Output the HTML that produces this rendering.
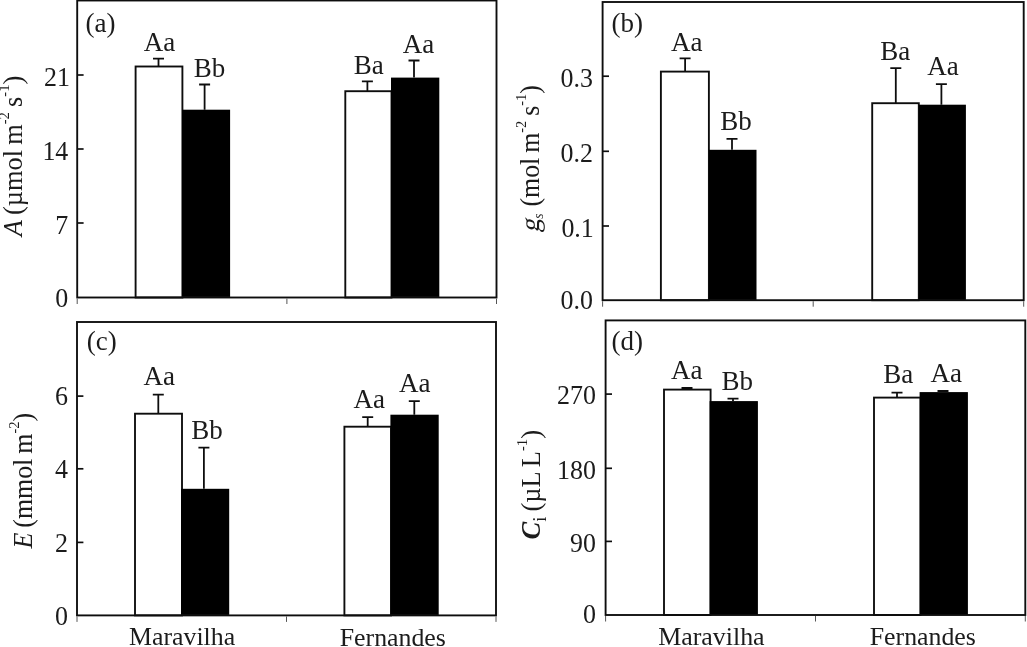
<!DOCTYPE html>
<html><head><meta charset="utf-8"><title>Figure</title>
<style>html,body{margin:0;padding:0;background:#fff;}body{width:1027px;height:647px;overflow:hidden;}svg{display:block;}text{font-family:"Liberation Serif",serif;fill:#1a1a1a;}</style>
</head><body>
<svg width="1027" height="647" viewBox="0 0 1027 647">
<defs><filter id="soft" x="0" y="0" width="100%" height="100%" filterUnits="userSpaceOnUse"><feGaussianBlur stdDeviation="0.38"/></filter></defs>
<rect x="0" y="0" width="1027" height="647" fill="#fff"/>
<g filter="url(#soft)">
<rect x="-5" y="-5" width="1037" height="657" fill="#fff"/>
<!-- panel a -->
<path d="M158.5 66.5V58.7M153.0 58.7H164.0" stroke="#111" stroke-width="1.8" fill="none"/>
<rect x="135.6" y="66.5" width="46.8" height="231.0" fill="#fff" stroke="#111" stroke-width="1.9"/>
<text x="159.4" y="50.6" font-size="27" text-anchor="middle">Aa</text>
<path d="M204.6 109.7V84.5M199.1 84.5H210.1" stroke="#111" stroke-width="1.8" fill="none"/>
<rect x="182.4" y="109.7" width="47.7" height="187.8" fill="#000"/>
<text x="209.4" y="76.6" font-size="27" text-anchor="middle">Bb</text>
<path d="M367.4 91.2V81.4M361.9 81.4H372.9" stroke="#111" stroke-width="1.8" fill="none"/>
<rect x="345.3" y="91.2" width="46.2" height="206.3" fill="#fff" stroke="#111" stroke-width="1.9"/>
<text x="368.8" y="74.2" font-size="27" text-anchor="middle">Ba</text>
<path d="M414.0 77.6V60.5M408.5 60.5H419.5" stroke="#111" stroke-width="1.8" fill="none"/>
<rect x="391.0" y="77.6" width="48.3" height="219.9" fill="#000"/>
<text x="418.5" y="53.0" font-size="27" text-anchor="middle">Aa</text>
<rect x="77.2" y="0.5" width="419.3" height="297.0" fill="none" stroke="#111" stroke-width="1.9"/>
<path d="M77.2 75.0H83.6" stroke="#111" stroke-width="1.7"/>
<text x="69.9" y="85.8" font-size="27" text-anchor="end" textLength="25.9" lengthAdjust="spacingAndGlyphs">21</text>
<path d="M77.2 149.0H83.6" stroke="#111" stroke-width="1.7"/>
<text x="68.3" y="159.8" font-size="27" text-anchor="end" textLength="25.9" lengthAdjust="spacingAndGlyphs">14</text>
<path d="M77.2 223.0H83.6" stroke="#111" stroke-width="1.7"/>
<text x="68.3" y="233.8" font-size="27" text-anchor="end" textLength="13.0" lengthAdjust="spacingAndGlyphs">7</text>
<text x="68.3" y="307.0" font-size="27" text-anchor="end" textLength="13.0" lengthAdjust="spacingAndGlyphs">0</text>
<path d="M77.2 298.5V304.0" stroke="#555" stroke-width="1"/>
<path d="M286.9 298.5V304.0" stroke="#555" stroke-width="1"/>
<path d="M496.5 298.5V304.0" stroke="#555" stroke-width="1"/>
<text x="85.5" y="32.0" font-size="27">(a)</text>
<!-- panel b -->
<path d="M685.1 71.6V58.3M679.6 58.3H690.6" stroke="#111" stroke-width="1.8" fill="none"/>
<rect x="660.9" y="71.6" width="48.0" height="228.6" fill="#fff" stroke="#111" stroke-width="1.9"/>
<text x="686.8" y="50.7" font-size="27" text-anchor="middle">Aa</text>
<path d="M732.0 149.8V138.8M726.5 138.8H737.5" stroke="#111" stroke-width="1.8" fill="none"/>
<rect x="708.9" y="149.8" width="47.6" height="150.4" fill="#000"/>
<text x="736.0" y="129.9" font-size="27" text-anchor="middle">Bb</text>
<path d="M895.8 103.2V68.1M890.3 68.1H901.3" stroke="#111" stroke-width="1.8" fill="none"/>
<rect x="872.2" y="103.2" width="46.6" height="197.0" fill="#fff" stroke="#111" stroke-width="1.9"/>
<text x="895.3" y="59.5" font-size="27" text-anchor="middle">Ba</text>
<path d="M941.4 104.7V84.2M935.9 84.2H946.9" stroke="#111" stroke-width="1.8" fill="none"/>
<rect x="918.8" y="104.7" width="47.1" height="195.5" fill="#000"/>
<text x="942.9" y="74.5" font-size="27" text-anchor="middle">Aa</text>
<rect x="602.6" y="2.0" width="421.1" height="298.2" fill="none" stroke="#111" stroke-width="1.9"/>
<path d="M602.6 76.2H609.0" stroke="#111" stroke-width="1.7"/>
<text x="593.0" y="87.0" font-size="27" text-anchor="end" textLength="32.4" lengthAdjust="spacingAndGlyphs">0.3</text>
<path d="M602.6 151.3H609.0" stroke="#111" stroke-width="1.7"/>
<text x="593.0" y="162.1" font-size="27" text-anchor="end" textLength="32.4" lengthAdjust="spacingAndGlyphs">0.2</text>
<path d="M602.6 226.0H609.0" stroke="#111" stroke-width="1.7"/>
<text x="593.8" y="236.8" font-size="27" text-anchor="end" textLength="32.4" lengthAdjust="spacingAndGlyphs">0.1</text>
<text x="593.0" y="309.0" font-size="27" text-anchor="end" textLength="32.4" lengthAdjust="spacingAndGlyphs">0.0</text>
<path d="M602.6 301.2V306.7" stroke="#555" stroke-width="1"/>
<path d="M813.2 301.2V306.7" stroke="#555" stroke-width="1"/>
<path d="M1023.7 301.2V306.7" stroke="#555" stroke-width="1"/>
<text x="611.5" y="32.0" font-size="27">(b)</text>
<!-- panel c -->
<path d="M158.3 413.7V394.6M152.8 394.6H163.8" stroke="#111" stroke-width="1.8" fill="none"/>
<rect x="135.0" y="413.7" width="47.0" height="201.7" fill="#fff" stroke="#111" stroke-width="1.9"/>
<text x="159.3" y="385.0" font-size="27" text-anchor="middle">Aa</text>
<path d="M203.9 488.8V447.7M198.4 447.7H209.4" stroke="#111" stroke-width="1.8" fill="none"/>
<rect x="181.0" y="488.8" width="48.2" height="126.6" fill="#000"/>
<text x="206.9" y="438.6" font-size="27" text-anchor="middle">Bb</text>
<path d="M367.7 426.7V417.2M362.2 417.2H373.2" stroke="#111" stroke-width="1.8" fill="none"/>
<rect x="344.4" y="426.7" width="46.6" height="188.7" fill="#fff" stroke="#111" stroke-width="1.9"/>
<text x="369.2" y="407.6" font-size="27" text-anchor="middle">Aa</text>
<path d="M414.3 414.7V401.2M408.8 401.2H419.8" stroke="#111" stroke-width="1.8" fill="none"/>
<rect x="390.4" y="414.7" width="48.3" height="200.7" fill="#000"/>
<text x="414.8" y="392.0" font-size="27" text-anchor="middle">Aa</text>
<rect x="77.0" y="322.0" width="419.0" height="293.4" fill="none" stroke="#111" stroke-width="1.9"/>
<path d="M77.0 396.1H83.4" stroke="#111" stroke-width="1.7"/>
<text x="68.1" y="405.2" font-size="27" text-anchor="end" textLength="13.0" lengthAdjust="spacingAndGlyphs">6</text>
<path d="M77.0 468.8H83.4" stroke="#111" stroke-width="1.7"/>
<text x="68.1" y="477.9" font-size="27" text-anchor="end" textLength="13.0" lengthAdjust="spacingAndGlyphs">4</text>
<path d="M77.0 542.4H83.4" stroke="#111" stroke-width="1.7"/>
<text x="68.1" y="551.5" font-size="27" text-anchor="end" textLength="13.0" lengthAdjust="spacingAndGlyphs">2</text>
<text x="68.1" y="624.9" font-size="27" text-anchor="end" textLength="13.0" lengthAdjust="spacingAndGlyphs">0</text>
<path d="M77.0 616.4V621.9" stroke="#555" stroke-width="1"/>
<path d="M286.5 616.4V621.9" stroke="#555" stroke-width="1"/>
<path d="M496.0 616.4V621.9" stroke="#555" stroke-width="1"/>
<text x="86.8" y="349.5" font-size="27">(c)</text>
<text x="129.0" y="644.7" font-size="26" textLength="106.1" lengthAdjust="spacingAndGlyphs">Maravilha</text>
<text x="339.7" y="646.1" font-size="26" textLength="106.2" lengthAdjust="spacingAndGlyphs">Fernandes</text>
<!-- panel d -->
<path d="M687.0 389.6V388.0M681.5 388.0H692.5" stroke="#111" stroke-width="1.8" fill="none"/>
<rect x="664.0" y="389.6" width="46.6" height="225.4" fill="#fff" stroke="#111" stroke-width="1.9"/>
<text x="686.8" y="378.9" font-size="27" text-anchor="middle">Aa</text>
<path d="M733.0 401.1V398.7M727.5 398.7H738.5" stroke="#111" stroke-width="1.8" fill="none"/>
<rect x="709.6" y="401.1" width="48.3" height="213.9" fill="#000"/>
<text x="737.2" y="390.4" font-size="27" text-anchor="middle">Bb</text>
<path d="M897.0 397.6V392.6M891.5 392.6H902.5" stroke="#111" stroke-width="1.8" fill="none"/>
<rect x="874.0" y="397.6" width="46.6" height="217.4" fill="#fff" stroke="#111" stroke-width="1.9"/>
<text x="898.3" y="383.0" font-size="27" text-anchor="middle">Ba</text>
<path d="M943.0 392.1V391.0M937.5 391.0H948.5" stroke="#111" stroke-width="1.8" fill="none"/>
<rect x="919.6" y="392.1" width="48.3" height="222.9" fill="#000"/>
<text x="946.3" y="381.5" font-size="27" text-anchor="middle">Aa</text>
<rect x="605.6" y="320.4" width="419.7" height="294.6" fill="none" stroke="#111" stroke-width="1.9"/>
<path d="M605.6 394.1H612.0" stroke="#111" stroke-width="1.7"/>
<text x="596.0" y="404.3" font-size="27" text-anchor="end" textLength="38.9" lengthAdjust="spacingAndGlyphs">270</text>
<path d="M605.6 468.3H612.0" stroke="#111" stroke-width="1.7"/>
<text x="596.0" y="478.5" font-size="27" text-anchor="end" textLength="38.9" lengthAdjust="spacingAndGlyphs">180</text>
<path d="M605.6 541.4H612.0" stroke="#111" stroke-width="1.7"/>
<text x="596.0" y="551.6" font-size="27" text-anchor="end" textLength="25.9" lengthAdjust="spacingAndGlyphs">90</text>
<text x="596.0" y="622.6" font-size="27" text-anchor="end" textLength="13.0" lengthAdjust="spacingAndGlyphs">0</text>
<path d="M605.6 616.0V621.5" stroke="#555" stroke-width="1"/>
<path d="M815.5 616.0V621.5" stroke="#555" stroke-width="1"/>
<path d="M1025.3 616.0V621.5" stroke="#555" stroke-width="1"/>
<text x="611.6" y="349.5" font-size="27">(d)</text>
<text x="658.2" y="645.0" font-size="26" textLength="106.4" lengthAdjust="spacingAndGlyphs">Maravilha</text>
<text x="869.7" y="644.7" font-size="26" textLength="106.2" lengthAdjust="spacingAndGlyphs">Fernandes</text>
<text transform="translate(22.2 236.2) rotate(-90)" font-size="27" word-spacing="-1.5" textLength="160.5" lengthAdjust="spacingAndGlyphs"><tspan font-style="italic">A</tspan> (µmol m<tspan font-size="15" dy="-13">-2</tspan><tspan dy="13"> s</tspan><tspan font-size="15" dy="-13">-1</tspan><tspan dy="13">)</tspan></text>
<text transform="translate(539.3 232.4) rotate(-90) skewX(-11)" font-size="27">g</text>
<text transform="translate(539.3 218.8) rotate(-90)" font-size="27" word-spacing="-1.5" textLength="133.7" lengthAdjust="spacingAndGlyphs"><tspan font-style="italic" font-size="14" dy="4">s</tspan><tspan dy="-4" dx="2.2"> (mol m</tspan><tspan font-size="15" dy="-13">-2</tspan><tspan dy="13"> s</tspan><tspan font-size="15" dy="-13">-1</tspan><tspan dy="13">)</tspan></text>
<text transform="translate(31.8 548.5) rotate(-90)" font-size="27" word-spacing="-1.5" textLength="135.5" lengthAdjust="spacingAndGlyphs"><tspan font-style="italic">E</tspan> (mmol m<tspan font-size="15" dy="-13">-2</tspan><tspan dy="13">)</tspan></text>
<text transform="translate(539.7 539.5) rotate(-90)" font-size="27" word-spacing="-1.5" textLength="109.5" lengthAdjust="spacingAndGlyphs"><tspan font-style="italic" font-weight="bold">C</tspan><tspan font-size="19" dy="6.7">i</tspan><tspan dy="-6.7"> (µL L</tspan><tspan font-size="15" dy="-13">-1</tspan><tspan dy="13">)</tspan></text>
</g>
</svg>
</body></html>
